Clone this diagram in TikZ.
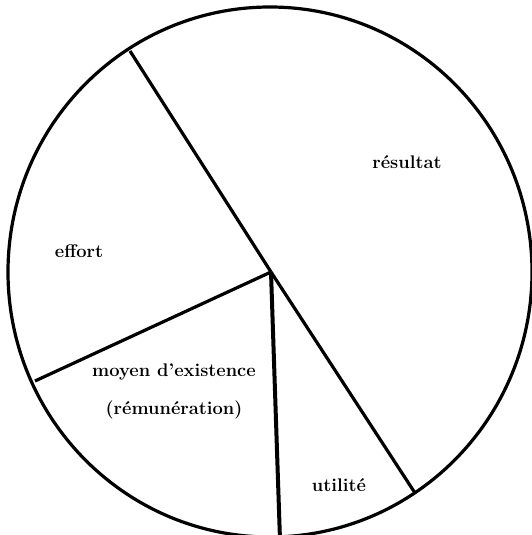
\documentclass[tikz,border=0pt]{standalone}
\begin{document}
\begin{tikzpicture}[x=1pt,y=-1pt,
  rim/.style={line width=3.2pt},
  spoke/.style={line width=3.2pt},
  lbl/.style={font=\fontsize{18.3}{21}\selectfont\bfseries, inner sep=0pt}]
\useasboundingbox (0,0) rectangle (532,535);
\draw[rim] (270,272) ellipse [x radius=262pt, y radius=265pt];
\coordinate (c) at (271,272);
\coordinate (a) at (130,51);
\coordinate (b) at (35,381);
\coordinate (d) at (415,493);
\coordinate (e) at (280,540);
\draw[spoke] (c) -- (a);
\draw[spoke] (c) -- (b);
\draw[spoke] (c) -- (d);
\draw[line width=4pt] (c) -- (e);
\node[lbl] (res) at (407,162) {résultat};
\node[lbl] (eff) at (79,251) {effort};
\node[lbl] (moy) at (174,372) {moyen d'existence};
\node[lbl] (rem) at (174,410) {(rémunération)};
\node[lbl] (uti) at (339,485) {utilité};
\end{tikzpicture}
\end{document}
